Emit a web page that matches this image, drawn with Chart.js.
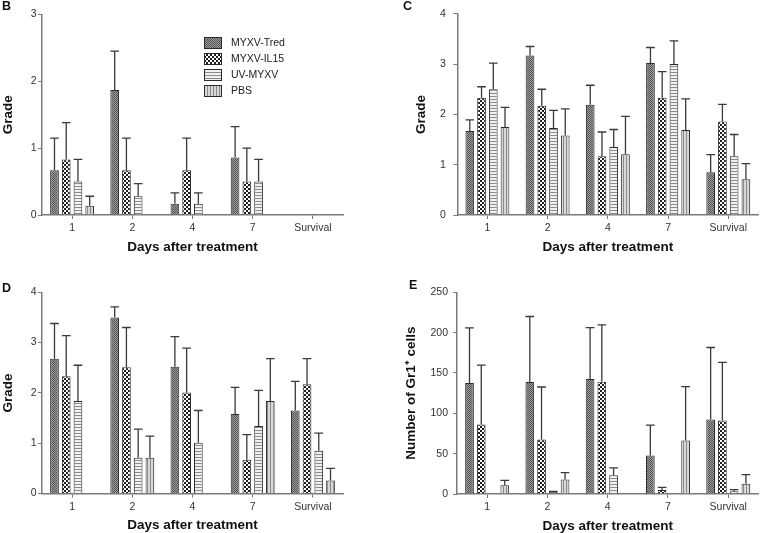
<!DOCTYPE html>
<html>
<head>
<meta charset="utf-8">
<script src="https://cdn.jsdelivr.net/npm/chart.js@4.4.1/dist/chart.umd.min.js"></script>
<style>
  body { margin: 0; background: #fff; width: 763px; height: 533px; position: relative; overflow: hidden; font-family: 'Liberation Sans', Arial, sans-serif; }
  canvas, .tag { position: absolute; }
  .tag { font-weight: bold; font-size: 12.5px; line-height: 1; color: #111; }
</style>
</head>
<body>
<canvas id="chartB" width="380" height="262" style="left:0;top:0"></canvas>
<canvas id="chartC" width="383" height="262" style="left:380px;top:0"></canvas>
<canvas id="chartD" width="380" height="272" style="left:0;top:262px"></canvas>
<canvas id="chartE" width="383" height="272" style="left:380px;top:262px"></canvas>
<div class="tag" style="left:2px;top:0">B</div>
<div class="tag" style="left:403px;top:0">C</div>
<div class="tag" style="left:2px;top:282px">D</div>
<div class="tag" style="left:409px;top:279px">E</div>
<script>
const categories = ['1', '2', '4', '7', 'Survival'];
const seriesNames = ['MYXV-Tred', 'MYXV-IL15', 'UV-MYXV', 'PBS'];

// panel B (grade)
const bTred = [0.67, 1.87, 0.17, 0.86, null];
const bIl15 = [0.83, 0.67, 0.67, 0.5, null];
const bUv   = [0.5, 0.28, 0.17, 0.5, null];
const bPbs  = [0.14, null, null, null, null];
const bTredErr = [0.48, 0.58, 0.16, 0.46, null];
const bIl15Err = [0.55, 0.48, 0.48, 0.5, null];
const bUvErr   = [0.33, 0.19, 0.16, 0.33, null];
const bPbsErr  = [0.14, null, null, null, null];

// panel C (grade)
const cTred = [1.67, 3.17, 2.19, 3.02, 0.85];
const cIl15 = [2.33, 2.17, 1.17, 2.33, 1.86];
const cUv   = [2.5, 1.73, 1.35, 3.0, 1.17];
const cPbs  = [1.75, 1.58, 1.21, 1.69, 0.71];
const cTredErr = [0.22, 0.18, 0.39, 0.31, 0.35];
const cIl15Err = [0.22, 0.33, 0.48, 0.52, 0.34];
const cUvErr   = [0.52, 0.35, 0.35, 0.46, 0.43];
const cPbsErr  = [0.39, 0.53, 0.75, 0.62, 0.31];

// panel D (grade)
const dTred = [2.68, 3.5, 2.52, 1.58, 1.65];
const dIl15 = [2.33, 2.51, 2.01, 0.67, 2.17];
const dUv   = [1.84, 0.71, 1.01, 1.34, 0.85];
const dPbs  = [null, 0.71, null, 1.84, 0.26];
const dTredErr = [0.70, 0.21, 0.60, 0.53, 0.58];
const dIl15Err = [0.81, 0.79, 0.88, 0.50, 0.51];
const dUvErr   = [0.71, 0.57, 0.64, 0.71, 0.35];
const dPbsErr  = [null, 0.43, null, 0.84, 0.24];

// panel E (Gr1+ cells)
const eTred = [137.6, 138.8, 142.5, 47.8, 92.3];
const eIl15 = [86.1, 67.5, 139.2, 4.9, 91.0];
const eUv   = [null, 2.5, 23.1, null, 3.3];
const ePbs  = [10.7, 18.1, null, 66.3, 12.8];
const eTredErr = [68.4, 81.2, 63.8, 37.5, 89.3];
const eIl15Err = [73.7, 65.1, 70.4, 3.3, 72.1];
const eUvErr   = [null, 0.6, 9.4, null, 2.1];
const ePbsErr  = [6.2, 8.3, null, 66.7, 11.1];

Chart.defaults.font.family = "'Liberation Sans', Arial, sans-serif";
Chart.defaults.color = '#333';

function makePattern(w, h, draw) {
    const c = document.createElement('canvas');
    c.width = w;
    c.height = h;
    const g = c.getContext('2d');
    draw(g);
    return g.createPattern(c, 'repeat');
}

// fills: fine dark texture, black/white checks, horizontal lines, vertical lines
const patterns = [
    makePattern(2, 2, g => {
        g.fillStyle = '#9c9c9c'; g.fillRect(0, 0, 2, 2);
        g.fillStyle = '#555'; g.fillRect(0, 0, 1, 1); g.fillRect(1, 1, 1, 1);
    }),
    makePattern(4, 4, g => {
        g.fillStyle = '#fff'; g.fillRect(0, 0, 4, 4);
        g.fillStyle = '#1e1e1e'; g.fillRect(0, 0, 2, 2); g.fillRect(2, 2, 2, 2);
    }),
    makePattern(3, 3, g => {
        g.fillStyle = '#f0f0f0'; g.fillRect(0, 0, 3, 3);
        g.fillStyle = '#8c8c8c'; g.fillRect(0, 0, 3, 1);
    }),
    makePattern(3, 3, g => {
        g.fillStyle = '#d8d8d8'; g.fillRect(0, 0, 3, 3);
        g.fillStyle = '#8a8a8a'; g.fillRect(0, 0, 1, 3);
    })
];

// upper error bars with a cap, from the dataset's errors array
const errorBars = {
    id: 'errorBars',
    afterDatasetsDraw(chart) {
        const ctx = chart.ctx;
        const y = chart.scales.y;
        ctx.save();
        ctx.strokeStyle = '#3a3a3a';
        ctx.lineWidth = 1.3;
        chart.data.datasets.forEach((ds, i) => {
            chart.getDatasetMeta(i).data.forEach((bar, j) => {
                const v = ds.data[j];
                const e = ds.errors[j];
                if (v == null || e == null) return;
                const top = y.getPixelForValue(v + e);
                const half = bar.width / 2;
                ctx.beginPath();
                ctx.moveTo(bar.x, bar.y);
                ctx.lineTo(bar.x, top);
                ctx.moveTo(bar.x - half, top);
                ctx.lineTo(bar.x + half, top);
                ctx.stroke();
            });
        });
        ctx.restore();
    }
};

// legend box inside panel B
const boxLegend = {
    id: 'boxLegend',
    afterDraw(chart) {
        const ctx = chart.ctx;
        ctx.save();
        ctx.font = "10.5px 'Liberation Sans', Arial, sans-serif";
        ctx.textBaseline = 'middle';
        seriesNames.forEach((name, i) => {
            const top = 37 + i * 16;
            ctx.fillStyle = patterns[i];
            ctx.fillRect(204, top, 17.5, 12);
            ctx.strokeStyle = '#2b2b2b';
            ctx.lineWidth = 1;
            ctx.strokeRect(204.5, top + 0.5, 17, 11);
            ctx.fillStyle = '#222';
            ctx.fillText(name, 231, top + 6.5);
        });
        ctx.restore();
    }
};

const axisColor = '#7a7a7a';

function makePanel(id, means, errors, o) {
    new Chart(document.getElementById(id), {
        type: 'bar',
        data: {
            labels: categories,
            datasets: means.map((m, i) => ({
                label: seriesNames[i],
                data: m,
                errors: errors[i],
                backgroundColor: patterns[i],
                borderColor: '#2b2b2b',
                borderWidth: 1,
                categoryPercentage: 0.78,
                barPercentage: 0.74
            }))
        },
        options: {
            responsive: false,
            animation: false,
            layout: { padding: { top: o.top, right: o.right, left: 0, bottom: 0 } },
            plugins: {
                legend: { display: false },
                tooltip: { enabled: false }
            },
            scales: {
                x: {
                    grid: { drawOnChartArea: false, drawTicks: true, tickLength: 4, offset: false, color: axisColor },
                    border: { color: axisColor, width: 1.5 },
                    ticks: { padding: 3, color: '#333', font: { size: 10.5 } },
                    title: {
                        display: true,
                        text: 'Days after treatment',
                        color: '#111',
                        font: { size: 13.5, weight: 'bold' },
                        padding: { top: 0, bottom: o.xTitlePad }
                    },
                    afterFit: s => { s.height = o.xHeight; }
                },
                y: {
                    min: 0,
                    max: o.max,
                    grid: { drawOnChartArea: false, drawTicks: true, tickLength: 4, color: axisColor },
                    border: { color: axisColor, width: 1.5 },
                    ticks: { stepSize: o.step, padding: o.yTickPad, color: '#333', font: { size: 10.5 } },
                    title: {
                        display: true,
                        text: o.yTitle,
                        color: '#111',
                        font: { size: 13.5, weight: 'bold' },
                        padding: { top: o.yTitlePad, bottom: 0 }
                    },
                    afterFit: s => { s.width = o.yWidth; }
                }
            }
        },
        plugins: o.legend ? [errorBars, boxLegend] : [errorBars]
    });
}

makePanel('chartB', [bTred, bIl15, bUv, bPbs], [bTredErr, bIl15Err, bUvErr, bPbsErr],
    { top: 14.3, right: 37, yWidth: 42, xHeight: 47, xTitlePad: 6.4, yTitlePad: 0, yTickPad: 1.5, max: 3, step: 1, yTitle: 'Grade', legend: true });
makePanel('chartC', [cTred, cIl15, cUv, cPbs], [cTredErr, cIl15Err, cUvErr, cPbsErr],
    { top: 13.3, right: 4.6, yWidth: 77.3, xHeight: 47, xTitlePad: 6.4, yTitlePad: 33.6, yTickPad: 7.5, max: 4, step: 1, yTitle: 'Grade' });
makePanel('chartD', [dTred, dIl15, dUv, dPbs], [dTredErr, dIl15Err, dUvErr, dPbsErr],
    { top: 30.3, right: 37, yWidth: 42, xHeight: 40.5, xTitlePad: 0.2, yTitlePad: 0, yTickPad: 1.5, max: 4, step: 1, yTitle: 'Grade' });
makePanel('chartE', [eTred, eIl15, eUv, ePbs], [eTredErr, eIl15Err, eUvErr, ePbsErr],
    { top: 30.3, right: 4.6, yWidth: 77, xHeight: 40, xTitlePad: 0, yTitlePad: 22.7, yTickPad: 5, max: 250, step: 50, yTitle: 'Number of Gr1\u207A cells' });
</script>
</body>
</html>
